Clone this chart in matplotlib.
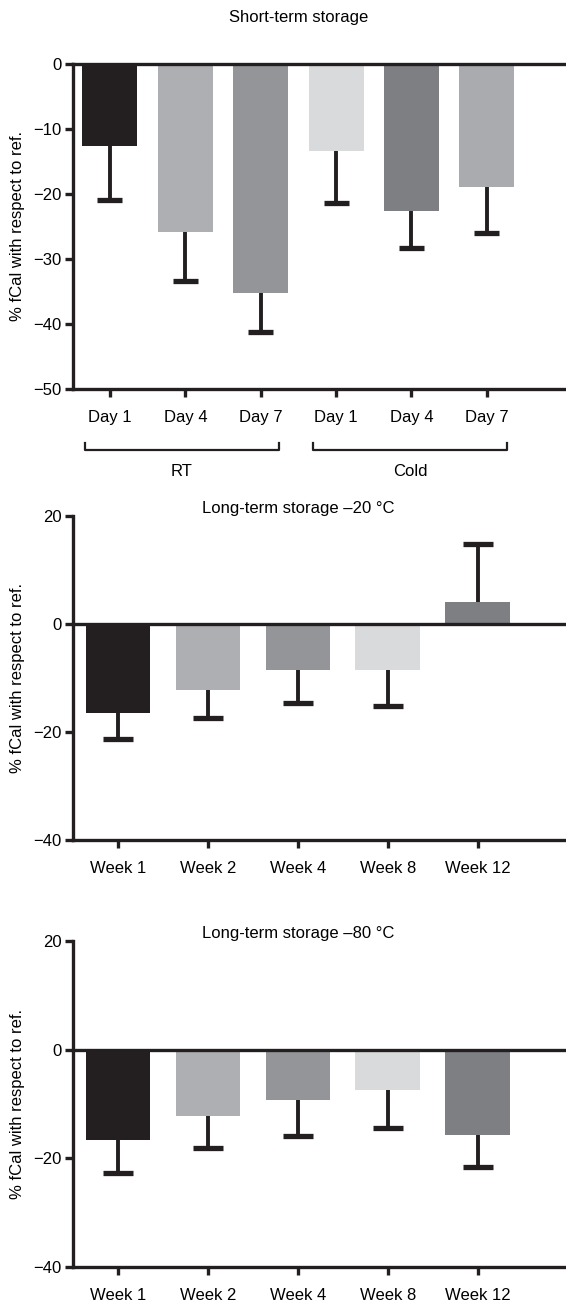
import matplotlib.pyplot as plt

plt.rcParams['font.family'] = ['Liberation Sans', 'DejaVu Sans']

# short-term storage
short_labels = ["Day 1", "Day 4", "Day 7", "Day 1", "Day 4", "Day 7"]
short_mean = [-12.6, -25.9, -35.2, -13.5, -22.6, -18.9]
short_err = [8.3, 7.5, 6.0, 8.0, 5.7, 7.1]
short_colors = ["#231f20", "#aeafb2", "#939598", "#d9dadb", "#7e7f83", "#a9abae"]
groups = ["RT", "Cold"]

# long-term storage
week_labels = ["Week 1", "Week 2", "Week 4", "Week 8", "Week 12"]
m20_mean = [-16.5, -12.3, -8.5, -8.5, 4.0]
m20_err = [4.8, 5.2, 6.2, 6.8, 10.7]
m80_mean = [-16.6, -12.3, -9.3, -7.4, -15.8]
m80_err = [6.1, 5.8, 6.7, 7.1, 5.9]
week_colors = ["#231f20", "#aeafb2", "#939598", "#d9dadb", "#7e7f83"]

ink = "#231f20"
W, H = 566, 1305
fig = plt.figure(figsize=(W / 100, H / 100), dpi=100)


def axes_px(left, top, bottom):
    return fig.add_axes([left / W, 1 - bottom / H, 1 - left / W, (bottom - top) / H])


def draw(ax, mean, err, colors, labels, width, ylim, yticks, xlim, title, title_y, capw):
    x = list(range(len(mean)))
    ax.bar(x, mean, width=width, color=colors, edgecolor="none", zorder=2)
    ends = [m - e if m < 0 else m + e for m, e in zip(mean, err)]
    ax.vlines(x, mean, ends, color=ink, lw=2.8, zorder=3)
    ax.hlines(ends, [i - capw / 2 for i in x], [i + capw / 2 for i in x], color=ink, lw=3.8, zorder=3)
    ax.axhline(0, color=ink, lw=2.4, zorder=4, clip_on=False)
    ax.set_xlim(*xlim)
    ax.set_ylim(*ylim)
    ax.set_yticks(yticks)
    ax.set_xticks(x)
    ax.set_xticklabels(labels)
    for s in ["top", "right"]:
        ax.spines[s].set_visible(False)
    for s in ["left", "bottom"]:
        ax.spines[s].set_linewidth(2.4)
        ax.spines[s].set_color(ink)
    ax.tick_params(axis="both", width=2.4, length=6, color=ink, labelsize=12)
    ax.tick_params(axis="x", pad=9)
    ax.tick_params(axis="y", pad=2)
    ax.set_ylabel("% fCal with respect to ref.", fontsize=12, labelpad=6)
    ax.text((len(mean) - 1) / 2, title_y, title, ha="center", va="center", fontsize=12, clip_on=False)


ax1 = axes_px(73, 63.5, 389)
draw(ax1, short_mean, short_err, short_colors, short_labels, 0.73, (-50, 0),
     [0, -10, -20, -30, -40, -50], (-0.49, 6.05), "Short-term storage", 7.0, 0.33)

# group brackets under the short-term panel
for (x0, x1), name in zip([(-0.33, 2.24), (2.69, 5.27)], groups):
    ax1.plot([x0, x0, x1, x1], [-58.3, -59.3, -59.3, -58.3], color=ink, lw=1.6, clip_on=False)
    ax1.text((x0 + x1) / 2, -62.6, name, ha="center", va="center", fontsize=12, clip_on=False)

ax2 = axes_px(73, 515.7, 840)
draw(ax2, m20_mean, m20_err, week_colors, week_labels, 0.72, (-40, 20),
     [20, 0, -20, -40], (-0.5, 4.98), "Long-term storage \u201320 \u00b0C", 21.3, 0.33)

ax3 = axes_px(73, 941, 1266.7)
draw(ax3, m80_mean, m80_err, week_colors, week_labels, 0.72, (-40, 20),
     [20, 0, -20, -40], (-0.5, 4.98), "Long-term storage \u201380 \u00b0C", 21.4, 0.33)

fig.savefig("out.png", dpi=100)
